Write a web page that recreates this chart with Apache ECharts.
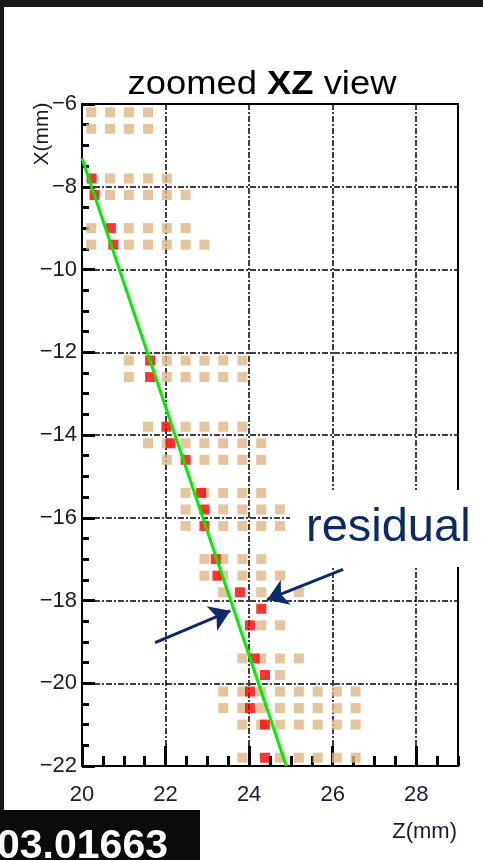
<!DOCTYPE html>
<html>
<head>
<meta charset="utf-8">
<script src="https://cdn.jsdelivr.net/npm/echarts@6/dist/echarts.min.js"></script>
<style>
html,body{margin:0;padding:0;width:483px;height:860px;overflow:hidden;background:#181818;}
#panel{position:absolute;left:4px;top:7px;width:479px;height:853px;background:#ffffff;}
#chart,#overlay{position:absolute;left:0;top:0;width:483px;height:860px;}
#overlay{pointer-events:none;}
</style>
</head>
<body>
<div id="panel"></div>
<div id="chart"></div>
<div id="overlay"></div>
<script>
// ---- data ----
const zRange = [20, 29];          // Z(mm) axis
const xRange = [-22, -6];         // X(mm) axis
const majorStep = 2;
const minorStep = 0.5;

// pad column centres (Z, mm)
const padColumnsZ = [20.22, 20.67, 21.12, 21.58, 22.03, 22.48, 22.93, 23.38, 23.84, 24.29, 24.74, 25.19, 25.64, 26.10, 26.55];
// pad row centres (X, mm)
const padRowsX = [-6.2, -6.6, -7.8, -8.2, -9.0, -9.4, -12.2, -12.6, -13.8, -14.2, -14.6, -15.4, -15.8, -16.2,
                  -17.0, -17.4, -17.8, -18.2, -18.6, -19.4, -19.8, -20.2, -20.6, -21.0, -21.8];
// which pad columns are drawn (tan) in each row
const rowPadColumns = [
  [0,1,2,3], [0,1,2,3], [1,2,3,4], [1,2,3,4,5], [0,2,3,4,5], [0,2,3,4,5,6],
  [2,4,5,6,7,8], [2,4,5,6,7,8], [3,5,6,7,8], [3,4,5,6,7,8,9], [4,6,7,8,9],
  [5,6,7,8,9], [5,7,8,9,10], [5,7,8,9,10],
  [6,7,8,9], [6,7,8,9,10], [7,9,11], [], [9,10], [8,9,10,11], [10],
  [7,8,9,10,11,12,13,14], [7,8,9,10,11,12,13,14], [8,9,10,11,12,13,14], [8,10,11,12,13,14]
];
// hit (red) pad Z in each row (null = none)
const rowHitZ = [null, null, 20.23, 20.30, 20.69, 20.75, 21.63, 21.63, 22.02, 22.12, 22.48,
                 22.85, 22.93, 22.93, 23.20, 23.24, 23.78, 24.29, 24.02, 24.13, 24.38,
                 24.02, 24.02, 24.38, 24.38];
// fitted track
const fitZ = [20.0, 24.89];
const fitX = [-7.31, -22.0];
// residual arrows: [tailZ, tailX, tipZ, tipX]
const arrowUpper = [26.25, -17.25, 24.43, -17.98];
const arrowLower = [21.75, -19.02, 23.55, -18.25];

// ---- build series data ----
const padData = [];
const hitData = [];
padRowsX.forEach((x, i) => {
  rowPadColumns[i].forEach(c => padData.push([padColumnsZ[c], x]));
  if (rowHitZ[i] !== null) hitData.push([rowHitZ[i], x]);
});
const fitData = fitZ.map((z, i) => [z, fitX[i]]);

const FONT = '"Liberation Sans", Arial, Helvetica, sans-serif';
const LABEL_COLOR = '#1a1a2e';
const minusFmt = v => String(v).replace('-', '\u2212');
const blankFmt = () => '';

const chart = echarts.init(document.getElementById('chart'), null, {renderer: 'canvas'});
const gridDash = {color: '#000', width: 1.5, type: [6, 2, 2, 2]};

chart.setOption({
  animation: false,
  backgroundColor: 'transparent',
  grid: {left: 82, top: 104, right: 25, bottom: 94, show: true, borderColor: '#000', borderWidth: 2,
         backgroundColor: 'transparent'},
  xAxis: [
    {type: 'value', min: zRange[0], max: zRange[1], interval: majorStep, position: 'bottom',
     axisLine: {show: true, onZero: false, lineStyle: {color: '#000', width: 2}},
     axisTick: {show: true, inside: true, length: 20, lineStyle: {color: '#000', width: 3}},
     axisLabel: {show: true, margin: 18, fontSize: 22, fontFamily: FONT, color: LABEL_COLOR,
                 showMaxLabel: false, formatter: minusFmt},
     splitLine: {show: true, lineStyle: gridDash}},
    {type: 'value', min: zRange[0], max: zRange[1], interval: minorStep, position: 'bottom',
     axisLine: {show: true, onZero: false, lineStyle: {color: '#000', width: 2}},
     axisTick: {show: true, inside: true, length: 10, lineStyle: {color: '#000', width: 3}},
     axisLabel: {show: true, fontSize: 8, formatter: blankFmt}, splitLine: {show: false}}
  ],
  yAxis: [
    {type: 'value', min: xRange[0], max: xRange[1], interval: majorStep, position: 'left',
     axisLine: {show: true, onZero: false, lineStyle: {color: '#000', width: 2}},
     axisTick: {show: true, inside: true, length: 13, lineStyle: {color: '#000', width: 3}},
     axisLabel: {show: true, margin: 5, fontSize: 22, fontFamily: FONT, color: LABEL_COLOR,
                 padding: [6, 0, 0, 0], formatter: minusFmt},
     splitLine: {show: true, lineStyle: gridDash}},
    {type: 'value', min: xRange[0], max: xRange[1], interval: minorStep, position: 'left',
     axisLine: {show: true, onZero: false, lineStyle: {color: '#000', width: 2}},
     axisTick: {show: true, inside: true, length: 7, lineStyle: {color: '#000', width: 3}},
     axisLabel: {show: true, fontSize: 8, formatter: blankFmt}, splitLine: {show: false}}
  ],
  series: [
    {type: 'scatter', name: 'pads', data: padData, symbol: 'rect', symbolSize: 10,
     itemStyle: {color: '#DDB784'}, z: 2},
    {type: 'scatter', name: 'hits', data: hitData, symbol: 'rect', symbolSize: 10,
     itemStyle: {color: '#FF0000'}, z: 3},
    {type: 'line', name: 'fit', data: fitData, showSymbol: false,
     lineStyle: {color: '#00EE00', width: 3}, z: 4},
    {type: 'lines', name: 'residual', coordinateSystem: 'cartesian2d',
     symbol: ['none', 'arrow'], symbolSize: 20, z: 6,
     lineStyle: {color: '#0b2a66', width: 3, opacity: 1},
     data: [
       {coords: [[arrowUpper[0], arrowUpper[1]], [arrowUpper[2], arrowUpper[3]]]},
       {coords: [[arrowLower[0], arrowLower[1]], [arrowLower[2], arrowLower[3]]]}
     ]}
  ]
});

const overlay = echarts.init(document.getElementById('overlay'), null, {renderer: 'canvas'});
overlay.setOption({
  animation: false,
  backgroundColor: 'transparent',
  graphic: [
    {type: 'text', x: 262, y: 68, z: 60, scaleX: 1.07,
     style: {text: '{n|zoomed }{b|XZ}{n| view}', align: 'center', verticalAlign: 'top', fill: '#000',
             rich: {n: {fontSize: 34, fontFamily: FONT, fontWeight: 'normal', fill: '#000', textStroke: '#000', lineWidth: 0.6},
                    b: {fontSize: 34, fontFamily: FONT, fontWeight: 'bold', fill: '#000'}}}},
    {type: 'text', x: 42, y: 134, rotation: Math.PI / 2, z: 60,
     style: {text: 'X(mm)', fontSize: 21, fontFamily: FONT, fill: LABEL_COLOR, align: 'center', verticalAlign: 'middle'}},
    {type: 'text', x: 457, y: 832, z: 60,
     style: {text: 'Z(mm)', fontSize: 22, fontFamily: FONT, fill: LABEL_COLOR, align: 'right', verticalAlign: 'middle'}},
    {type: 'rect', z: 50, shape: {x: 290, y: 490, width: 193, height: 77}, style: {fill: '#ffffff'}},
    {type: 'text', x: 306, y: 528, z: 60,
     style: {text: 'residual', fontSize: 47, fontFamily: FONT, fill: '#0b2a66', align: 'left', verticalAlign: 'middle'}},
    {type: 'rect', z: 50, shape: {x: 0, y: 810, width: 200, height: 50}, style: {fill: '#0b0b0b'}},
    {type: 'text', x: -3, y: 826, z: 60,
     style: {text: '03.01663', fontSize: 41, fontFamily: FONT, fontWeight: 'bold', fill: '#ffffff', align: 'left', verticalAlign: 'top'}}
  ]
});
</script>
</body>
</html>
